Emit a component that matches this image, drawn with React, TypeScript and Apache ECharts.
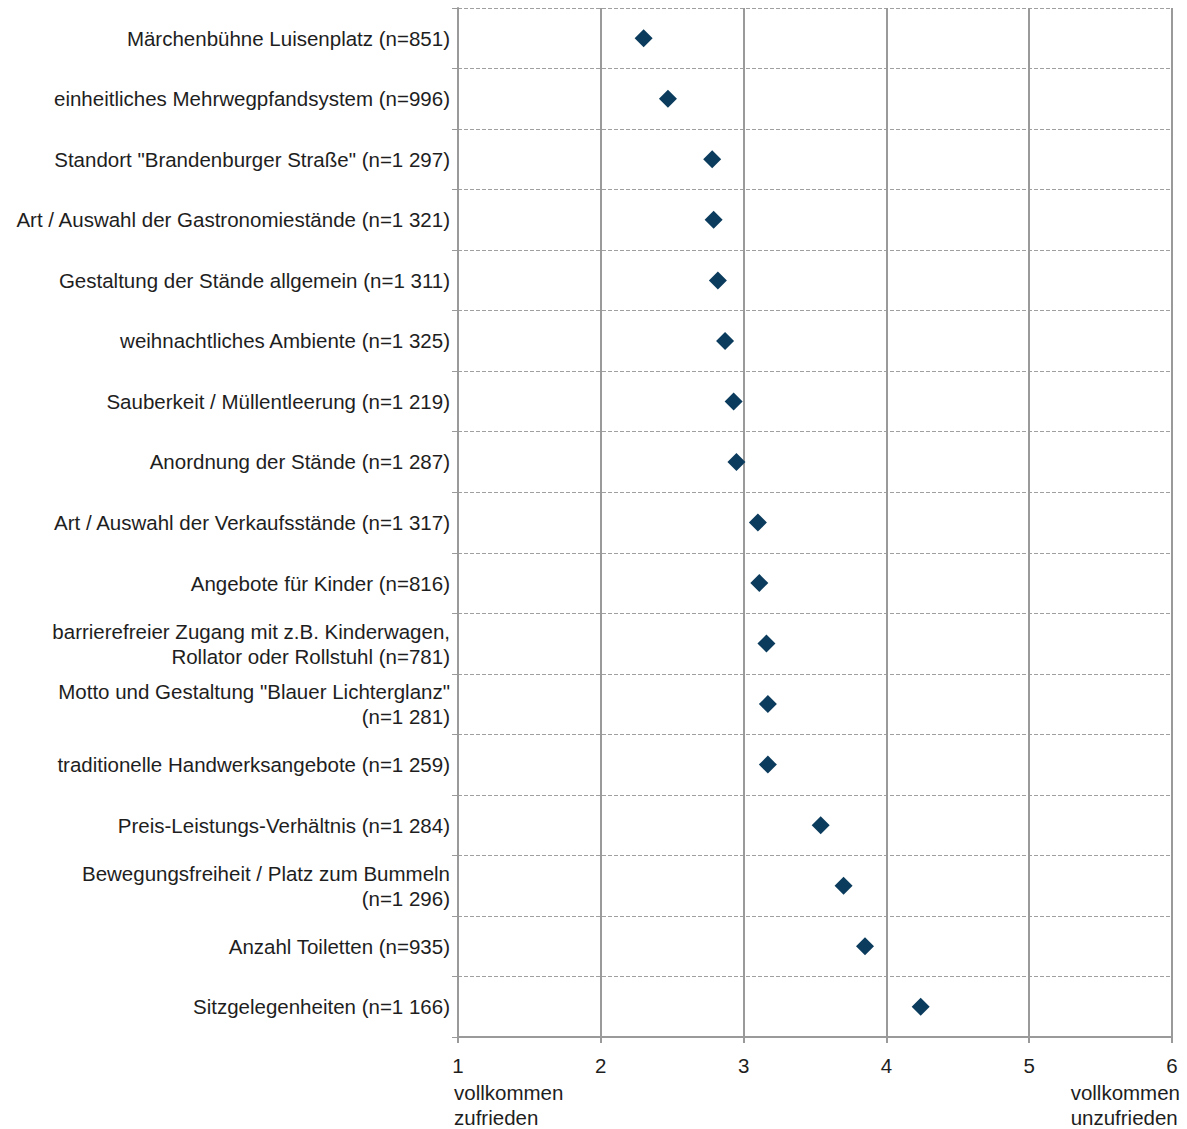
import React, { useEffect, useRef } from "react";
import * as echarts from "echarts";

// Satisfaction items (top to bottom), with sample sizes in the labels
const categories: string[] = [
  "Märchenbühne Luisenplatz (n=851)",
  "einheitliches Mehrwegpfandsystem (n=996)",
  'Standort "Brandenburger Straße" (n=1 297)',
  "Art / Auswahl der Gastronomiestände (n=1 321)",
  "Gestaltung der Stände allgemein (n=1 311)",
  "weihnachtliches Ambiente (n=1 325)",
  "Sauberkeit / Müllentleerung (n=1 219)",
  "Anordnung der Stände (n=1 287)",
  "Art / Auswahl der Verkaufsstände (n=1 317)",
  "Angebote für Kinder (n=816)",
  "barrierefreier Zugang mit z.B. Kinderwagen,\nRollator oder Rollstuhl (n=781)",
  'Motto und Gestaltung "Blauer Lichterglanz"\n(n=1 281)',
  "traditionelle Handwerksangebote (n=1 259)",
  "Preis-Leistungs-Verhältnis (n=1 284)",
  "Bewegungsfreiheit / Platz zum Bummeln\n(n=1 296)",
  "Anzahl Toiletten (n=935)",
  "Sitzgelegenheiten (n=1 166)",
];

// Mean rating per item (1 = vollkommen zufrieden ... 6 = vollkommen unzufrieden)
const meanRatings: number[] = [
  2.3, 2.47, 2.78, 2.79, 2.82, 2.87, 2.93, 2.95, 3.1, 3.11, 3.16, 3.17, 3.17,
  3.54, 3.7, 3.85, 4.24,
];

const scaleMin = 1;
const scaleMax = 6;
const scaleStep = 1;

const leftEndLabel = "vollkommen\nzufrieden";
const rightEndLabel = "vollkommen\nunzufrieden";

const FONT = "'Liberation Sans', Arial, Helvetica, sans-serif";
const FONT_SIZE = 20.5;
const GRID_GRAY = "#9a9a9a";
const TEXT_COLOR = "#1e1e1e";
const MARK_COLOR = "#0b3c5d";

export default function App() {
  const ref = useRef<HTMLDivElement>(null);

  useEffect(() => {
    if (!ref.current) return;
    const chart = echarts.init(ref.current, undefined, { renderer: "svg" });

    chart.setOption({
      animation: false,
      backgroundColor: "#ffffff",
      textStyle: { fontFamily: FONT },
      grid: { left: 458, right: 15, top: 8, bottom: 92, containLabel: false },
      xAxis: {
        type: "value",
        min: scaleMin,
        max: scaleMax,
        interval: scaleStep,
        axisLine: { show: true, lineStyle: { color: GRID_GRAY, width: 2 } },
        axisTick: { show: true, length: 6, lineStyle: { color: GRID_GRAY, width: 2 } },
        splitLine: { show: true, lineStyle: { color: GRID_GRAY, width: 2, type: "solid" } },
        axisLabel: {
          color: TEXT_COLOR,
          fontSize: FONT_SIZE,
          fontFamily: FONT,
          margin: 18,
        },
      },
      yAxis: {
        type: "category",
        data: categories,
        inverse: true,
        boundaryGap: true,
        axisLine: { show: true, lineStyle: { color: GRID_GRAY, width: 2 } },
        axisTick: { show: true, length: 6, lineStyle: { color: GRID_GRAY, width: 1 } },
        splitLine: {
          show: true,
          lineStyle: { color: "#a0a0a0", width: 1, type: [4, 2] },
        },
        axisLabel: {
          color: TEXT_COLOR,
          fontSize: FONT_SIZE,
          fontFamily: FONT,
          lineHeight: 25,
          margin: 8,
          align: "right",
        },
      },
      series: [
        {
          type: "scatter",
          symbol: "diamond",
          symbolSize: 18,
          itemStyle: { color: MARK_COLOR, opacity: 1 },
          data: meanRatings.map((v, i) => [v, i]),
        },
      ],
      graphic: [
        {
          type: "text",
          left: 454,
          top: 1080,
          style: {
            text: leftEndLabel,
            font: `${FONT_SIZE}px ${FONT}`,
            fill: TEXT_COLOR,
            lineHeight: 25,
            align: "left",
          },
        },
        {
          type: "text",
          right: 7,
          top: 1080,
          style: {
            text: rightEndLabel,
            font: `${FONT_SIZE}px ${FONT}`,
            fill: TEXT_COLOR,
            lineHeight: 25,
            align: "right",
          },
        },
      ],
    });

    return () => chart.dispose();
  }, []);

  return (
    <div
      ref={ref}
      style={{ position: "fixed", left: 0, top: 0, width: 1187, height: 1129 }}
    />
  );
}
